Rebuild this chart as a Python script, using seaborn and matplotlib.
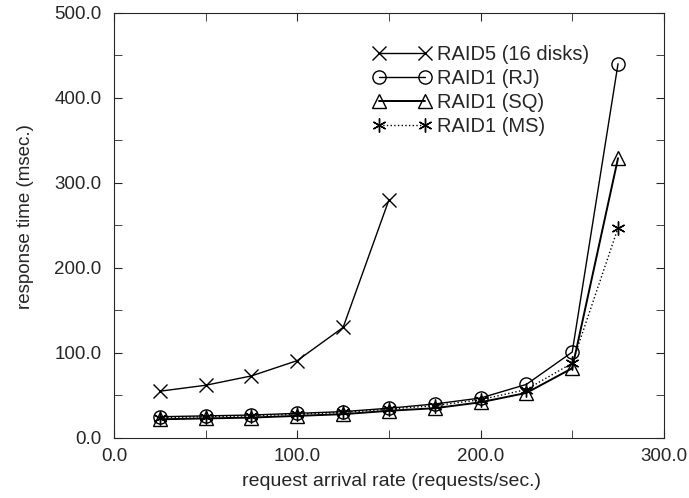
import seaborn as sns
import matplotlib.pyplot as plt
from matplotlib.ticker import MultipleLocator, FormatStrFormatter
import pandas as pd

# arrival rates (requests/sec)
rate = [25, 50, 75, 100, 125, 150, 175, 200, 225, 250, 275]
raid5_rate = [25, 50, 75, 100, 125, 150]

# response times (msec)
raid5 = [55, 62, 73, 91, 130, 280]
raid1_rj = [25, 26, 27, 29, 31, 35, 40, 47, 63, 101, 440]
raid1_sq = [22, 23, 24, 26, 28, 32, 35, 42, 53, 82, 329]
raid1_ms = [24, 25, 26, 28, 30, 34, 38, 45, 57, 88, 247]

sns.set_style("ticks")
plt.rcParams['font.family'] = ['Liberation Sans', 'DejaVu Sans']

fig = plt.figure(figsize=(6.89, 4.98), dpi=100)
ax = fig.add_axes([0.1655, 0.1205, 0.798, 0.854])

series = [
    ("RAID5 (16 disks)", raid5_rate, raid5, "x", "-", 1.0, 10),
    ("RAID1 (RJ)", rate, raid1_rj, "o", "-", 1.0, 9.5),
    ("RAID1 (SQ)", rate, raid1_sq, "^", "-", 1.4, 10),
    ("RAID1 (MS)", rate, raid1_ms, (6, 2, 0), ":", 1.0, 10),
]

for label, xs, ys, mk, ls, lw, ms in series:
    df = pd.DataFrame({"x": xs, "y": ys})
    sns.lineplot(data=df, x="x", y="y", ax=ax, color="black", marker=mk,
                 markersize=ms, markerfacecolor="none", markeredgecolor="black",
                 markeredgewidth=1.0, linestyle=ls, linewidth=lw, label=label)

ax.set_xlim(0, 300)
ax.set_ylim(0, 500)
ax.xaxis.set_major_locator(MultipleLocator(100))
ax.xaxis.set_minor_locator(MultipleLocator(50))
ax.yaxis.set_major_locator(MultipleLocator(100))
ax.yaxis.set_minor_locator(MultipleLocator(50))
ax.xaxis.set_major_formatter(FormatStrFormatter("%.1f"))
ax.yaxis.set_major_formatter(FormatStrFormatter("%.1f"))
ax.tick_params(which="both", direction="in", top=True, right=True, labelsize=13.5)
ax.tick_params(which="both", length=6)
ax.tick_params(axis="x", pad=7)
ax.tick_params(axis="y", pad=9)

ax.set_xlabel("request arrival rate (requests/sec.)", fontsize=14)
ax.set_ylabel("response time (msec.)", fontsize=13.5)
ax.xaxis.set_label_coords(0.505, -0.083)
ax.yaxis.set_label_coords(-0.145, 0.52)

leg = ax.legend(loc="upper left", bbox_to_anchor=(0.471, 0.925), frameon=False,
                fontsize=14.5, numpoints=2, handlelength=2.9, handletextpad=0.3,
                labelspacing=0.25, borderaxespad=0, borderpad=0)

fig.savefig("out.png", dpi=100)
